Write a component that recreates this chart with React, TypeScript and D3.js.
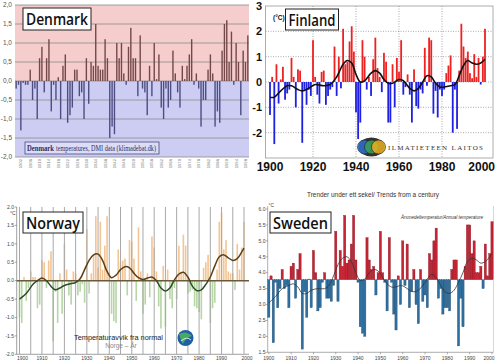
import React, { useEffect, useRef } from "react";
import * as d3 from "d3";

// ---- Denmark (DMI anomalies, 1900-1999) ----
const dkYears = d3.range(1900, 2000);
const dkValues = [
  -0.2, -0.1, -1.3, -0.05, -0.1, -0.1, 0.3, -0.5, -0.2, -1.0,
  0.6, 0.9, -0.3, 0.6, 1.1, -0.8, -0.1, -0.5, 0.1, -1.0,
  0.4, 0.7, -1.1, -0.9, -0.7, 0.3, 0.3, -0.4, -0.3, -1.0,
  0.6, -0.6, 0.5, 0.4, 1.5, 0.4, 0.3, 0.3, 1.1, 0.6,
  -1.5, -1.2, -1.4, 1.0, 0.6, 1.0, 0.2, -0.1, 0.9, 1.4,
  0.6, 0.6, -0.4, 1.2, -0.2, -0.3, -0.9, 0.4, -0.4, 1.0,
  0.05, 0.7, -0.7, -1.0, -0.2, -0.7, -0.5, 0.8, 0.2, -0.3,
  -0.7, 0.4, 0.05, 0.4, 0.7, 1.1, -0.1, 0.2, -0.2, -1.2,
  -0.5, -0.5, 0.3, 0.7, 0.2, -1.2, -0.8, -1.1, 0.8, 1.5,
  1.6, 0.5, 1.3, -0.1, 1.0, 0.5, -0.9, 0.8, 0.5, 1.2,
];
const dkTicks = [2, 1.5, 1, 0.5, 0, -0.5, -1, -1.5, -2];
const dkYearLabels = d3.range(1902, 2000, 4);

// ---- Finland (1900-2000) ----
const fiYears = d3.range(1900, 2001);
const fiValues = [
  -1.3, 0.2, -2.45, 0.7, -0.85, 0.1, 0.6, -0.7, -0.45, -0.3,
  0.95, 0.2, -1.0, 0.5, 0.45, -2.4, -0.3, -0.9, -0.3, -0.55,
  1.65, 0.2, -0.5, -0.85, 0.4, 0.45, -0.9, -0.55, -0.3, -0.2,
  1.4, -0.55, 1.0, -0.25, 2.1, 0.7, 0.8, 1.6, 2.2, 1.2,
  -1.2, -2.25, -1.6, 1.65, 1.0, -0.3, 0.2, -0.55, 0.9, 1.75,
  0.55, 0.2, -0.4, 1.15, 0.8, -1.6, -1.6, 0.7, -1.0, 0.95,
  0.4, 1.65, -0.5, -0.2, 0.3, -0.5, -1.6, 0.5, -0.95, -1.05,
  -0.3, -0.45, 1.35, -0.15, 1.75, 1.65, -1.25, -0.35, -1.4, -0.3,
  -0.55, -0.3, 0.35, 0.65, 1.05, -2.0, -0.3, -1.85, 0.45, 2.3,
  1.4, 0.95, 1.2, 0.35, 0.15, 1.1, 0.2, 0.95, -0.1, 1.0, 2.1,
];
const fiSmoothYears = [1900, 1902, 1905, 1908, 1910, 1913, 1915, 1918, 1921, 1925, 1928, 1931, 1934, 1936, 1938, 1940, 1942, 1944, 1947, 1949, 1951, 1953, 1955, 1957, 1960, 1962, 1965, 1967, 1969, 1971, 1973, 1975, 1977, 1979, 1981, 1984, 1986, 1988, 1990, 1992, 1994, 1996, 1998, 2000];
const fiSmooth = [-0.6, -0.6, -0.35, -0.15, -0.15, -0.3, -0.35, -0.25, -0.1, -0.15, -0.1, 0.2, 0.7, 0.85, 0.75, 0.3, 0.0, 0.05, 0.35, 0.45, 0.35, 0.1, -0.05, -0.05, 0.1, 0.05, -0.25, -0.35, -0.25, 0.0, 0.25, 0.2, -0.05, -0.2, -0.2, -0.15, -0.1, 0.25, 0.65, 0.85, 0.75, 0.7, 0.75, 0.9];
const fiTicks = [3, 2, 1, 0, -1, -2];
const fiYearLabels = [1900, 1920, 1940, 1960, 1980, 2000];

// ---- Norway (1900-2000) ----
const noYears = d3.range(1900, 2001);
const noValues = [
  -1.0, -1.15, 0.1, -0.55, -0.2, 0.25, 0.1, 0.1, -0.75, -0.65,
  0.55, 0.5, -0.2, 0.55, 0.8, -1.65, -0.3, -1.15, 0.2, -0.9,
  1.0, 0.3, -0.4, -0.65, 0.25, 0.2, -0.4, -0.3, -0.1, -0.6,
  1.4, -0.35, 0.2, 0.7, 1.75, 0.35, 1.6, 0.3, 0.95, 1.75,
  0.2, -0.9, -1.1, -1.15, 0.85, 0.5, 0.55, 0.6, -0.4, 1.1,
  1.05, 0.6, -0.55, 1.45, 0.25, -0.9, -0.65, 0.2, -0.45, 1.2,
  0.9, 0.25, -0.7, -1.3, 0.4, -1.25, 0.3, -0.5, -0.75, -0.2,
  -0.5, 0.95, 0.2, 1.25, 0.95, -0.35, -0.3, -0.25, -0.7, -0.75,
  -0.85, -1.05, 0.35, 0.5, 0.7, -1.15, -0.75, -0.6, 0.3, 1.6,
  1.85, 0.85, 1.1, 0.25, 0.2, 0.2, -0.25, 1.0, 0.3, 0.9, 1.6,
];
const noSmoothYears = [1900, 1903, 1906, 1908, 1910, 1912, 1914, 1916, 1918, 1920, 1923, 1925, 1927, 1929, 1931, 1933, 1935, 1937, 1939, 1941, 1943, 1945, 1947, 1949, 1951, 1953, 1955, 1957, 1959, 1961, 1963, 1965, 1967, 1969, 1971, 1973, 1975, 1977, 1979, 1981, 1983, 1985, 1987, 1989, 1991, 1993, 1995, 1997, 1999, 2000];
const noSmooth = [-0.5, -0.35, -0.1, 0.0, 0.07, 0.0, -0.15, -0.25, -0.2, -0.13, -0.08, -0.05, 0.05, 0.3, 0.55, 0.7, 0.72, 0.55, 0.25, 0.08, 0.15, 0.3, 0.38, 0.35, 0.2, 0.08, 0.03, 0.07, 0.1, 0.0, -0.2, -0.28, -0.2, 0.02, 0.18, 0.23, 0.1, -0.15, -0.27, -0.25, -0.1, 0.1, 0.4, 0.65, 0.7, 0.62, 0.55, 0.6, 0.78, 0.88];
const noTicks = [2, 1.5, 1, 0.5, 0, -0.5, -1, -1.5, -2];
const noYearLabels = d3.range(1900, 2001, 10);

// ---- Sweden (1900-2000, absolute annual mean) ----
const seYears = d3.range(1900, 2001);
const seValues = [
  2.6, 3.9, 1.8, 3.7, 2.9, 3.5, 4.1, 3.5, 3.6, 2.9,
  4.2, 4.3, 3.2, 4.1, 4.6, 1.6, 3.4, 2.6, 3.8, 2.9,
  4.7, 4.0, 2.8, 2.9, 3.7, 4.0, 3.2, 3.2, 3.1, 3.6,
  5.3, 3.1, 4.7, 4.2, 5.8, 4.3, 4.4, 4.9, 5.8, 4.4,
  3.7, 2.3, 2.1, 2.0, 5.1, 4.4, 4.1, 4.2, 3.3, 4.0,
  5.3, 4.0, 3.7, 2.8, 5.1, 3.7, 2.7, 2.2, 3.9, 3.0,
  5.0, 3.6, 4.9, 2.9, 3.4, 4.1, 3.0, 2.4, 4.1, 3.1,
  3.3, 2.9, 4.6, 4.4, 5.0, 5.4, 3.2, 3.5, 2.7, 2.9,
  2.9, 2.8, 4.1, 4.4, 4.4, 1.7, 3.2, 2.3, 4.2, 5.5,
  5.5, 4.6, 5.0, 4.0, 4.0, 4.2, 3.5, 4.9, 3.9, 4.6, 5.6,
];
const seBase = 3.78;
const seSmoothYears = [1900, 1903, 1906, 1909, 1911, 1913, 1915, 1917, 1919, 1922, 1925, 1927, 1929, 1931, 1933, 1935, 1937, 1939, 1941, 1943, 1945, 1947, 1949, 1951, 1953, 1955, 1957, 1959, 1961, 1963, 1965, 1967, 1969, 1971, 1973, 1975, 1977, 1979, 1981, 1983, 1985, 1987, 1989, 1991, 1993, 1995, 1997, 1999, 2000];
const seSmooth = [3.05, 3.25, 3.5, 3.6, 3.65, 3.55, 3.35, 3.35, 3.45, 3.5, 3.5, 3.6, 3.9, 4.25, 4.45, 4.5, 4.35, 4.0, 3.75, 3.8, 4.0, 4.1, 4.05, 3.85, 3.65, 3.55, 3.55, 3.6, 3.55, 3.45, 3.4, 3.45, 3.6, 3.8, 3.95, 3.85, 3.6, 3.4, 3.35, 3.45, 3.7, 4.0, 4.35, 4.45, 4.4, 4.3, 4.35, 4.5, 4.6];
const seTicks = [6, 5.5, 5, 4.5, 4, 3.5, 3, 2.5, 2, 1.5];
const seYearLabels = d3.range(1900, 2001, 10);

type Sel = d3.Selection<SVGSVGElement, unknown, null, undefined>;

const titleBox = (svg: Sel, x: number, y: number, w: number, h: number, label: string) => {
  svg.append("rect").attr("x", x).attr("y", y).attr("width", w).attr("height", h)
    .attr("fill", "white").attr("stroke", "#222").attr("stroke-width", 1);
  svg.append("text").attr("x", x + w / 2).attr("y", y + h / 2 + 6)
    .attr("text-anchor", "middle").attr("font-family", "Open Sans, sans-serif")
    .attr("font-size", 17).attr("font-weight", 600).attr("fill", "#111")
    .attr("textLength", w - 6).attr("lengthAdjust", "spacingAndGlyphs").text(label);
};

const drawDenmark = (svg: Sel) => {
  const x = d3.scaleBand<number>().domain(dkYears).range([15, 249]);
  const y = d3.scaleLinear().domain([-2, 2]).range([157, 5]);
  svg.append("rect").attr("x", 15).attr("y", y(2)).attr("width", 234).attr("height", y(0) - y(2)).attr("fill", "#f6cdcd");
  svg.append("rect").attr("x", 15).attr("y", y(0)).attr("width", 234).attr("height", y(-2) - y(0)).attr("fill", "#cdcdf4");
  dkTicks.forEach((t) => {
    svg.append("line").attr("x1", 15).attr("x2", 249).attr("y1", y(t)).attr("y2", y(t))
      .attr("stroke", "#8a8a8a").attr("stroke-width", 0.8);
    svg.append("text").attr("x", 12).attr("y", y(t) + 2.3).attr("text-anchor", "end")
      .attr("font-family", "Liberation Sans, sans-serif").attr("font-size", 6.5).attr("fill", "#555")
      .text(d3.format(".1f")(t).replace(".", ",").replace("−", "-"));
  });
  svg.append("g").selectAll("rect").data(dkValues).join("rect")
    .attr("x", (_, i) => x(dkYears[i])! + x.bandwidth() / 2 - 0.7)
    .attr("width", 1.4)
    .attr("y", (d) => Math.min(y(d), y(0)))
    .attr("height", (d) => Math.abs(y(d) - y(0)))
    .attr("fill", (d) => (d >= 0 ? "#744848" : "#4d4d82"));
  dkYearLabels.forEach((yr) => {
    const cx = x(yr)! + x.bandwidth() / 2 + 1.5;
    svg.append("text").attr("transform", `translate(${cx},159) rotate(-90)`)
      .attr("text-anchor", "end").attr("font-family", "Liberation Sans, sans-serif")
      .attr("font-size", 4.2).attr("fill", "#777").text(yr);
  });
  // source box
  svg.append("rect").attr("x", 25).attr("y", 142).attr("width", 134).attr("height", 12)
    .attr("fill", "#dcdcf6").attr("stroke", "#4a4a80").attr("stroke-width", 0.8);
  svg.append("text").attr("x", 27).attr("y", 151).attr("font-family", "Liberation Serif, serif")
    .attr("font-size", 7.5).attr("font-weight", "bold").attr("fill", "#2c2c66")
    .attr("textLength", 27).attr("lengthAdjust", "spacingAndGlyphs").text("Denmark");
  svg.append("text").attr("x", 56).attr("y", 151).attr("font-family", "Liberation Serif, serif")
    .attr("font-size", 7.5).attr("fill", "#2c2c66")
    .attr("textLength", 100).attr("lengthAdjust", "spacingAndGlyphs").text("temperatures, DMI data (klimadebat.dk)");
  titleBox(svg, 23, 8, 68, 22, "Denmark");
};

const drawFinland = (svg: Sel) => {
  const x = d3.scaleLinear().domain([1900, 2000]).range([270, 485]);
  const y = d3.scaleLinear().domain([-3, 3]).range([158, 6]);
  const left = 265.5, right = 493;
  svg.append("rect").attr("x", left).attr("y", y(3)).attr("width", right - left).attr("height", y(-3) - y(3))
    .attr("fill", "white").attr("stroke", "#999").attr("stroke-width", 0.8);
  fiTicks.forEach((t) => {
    if (t !== 3) svg.append("line").attr("x1", left).attr("x2", right).attr("y1", y(t)).attr("y2", y(t))
      .attr("stroke", "#888").attr("stroke-width", 0.7).attr("stroke-dasharray", "1,1.5");
    svg.append("text").attr("x", 262).attr("y", y(t) + 4).attr("text-anchor", "end")
      .attr("font-family", "Liberation Sans, sans-serif").attr("font-weight", "bold").attr("font-size", 11)
      .attr("fill", "#111").text(t < 0 ? `-${-t}` : t);
  });
  fiYearLabels.forEach((yr) => {
    if (yr > 1900 && yr < 2000) svg.append("line").attr("x1", x(yr)).attr("x2", x(yr)).attr("y1", y(3)).attr("y2", y(-3))
      .attr("stroke", "#888").attr("stroke-width", 0.7).attr("stroke-dasharray", "1,1.5");
    svg.append("text").attr("x", yr === 2000 ? 495 : x(yr)).attr("y", 171)
      .attr("text-anchor", yr === 2000 ? "end" : "middle")
      .attr("font-family", "Liberation Sans, sans-serif").attr("font-weight", "bold").attr("font-size", 12)
      .attr("fill", "#111").text(yr);
  });
  svg.append("g").selectAll("rect").data(fiValues).join("rect")
    .attr("x", (_, i) => x(fiYears[i]) - 0.9)
    .attr("width", 1.8)
    .attr("y", (d) => Math.min(y(d), y(0)))
    .attr("height", (d) => Math.abs(y(d) - y(0)))
    .attr("fill", (d) => (d >= 0 ? "#ee2222" : "#2020e0"));
  const line = d3.line<number>().x((_, i) => x(fiSmoothYears[i])).y((d) => y(d)).curve(d3.curveCatmullRom);
  svg.append("path").attr("d", line(fiSmooth)).attr("fill", "none").attr("stroke", "#111").attr("stroke-width", 1.6);
  // logo
  const lg = svg.append("g");
  lg.append("ellipse").attr("cx", 371.5).attr("cy", 147).attr("rx", 13).attr("ry", 9.5).attr("fill", "#333");
  [["#2f6fd0", 364.5], ["#3aa050", 371.5], ["#e8b020", 378.5]].forEach(([c, cx]) => {
    lg.append("circle").attr("cx", cx as number).attr("cy", 147).attr("r", 7).attr("fill", c as string)
      .attr("fill-opacity", 0.85).attr("stroke", "#222").attr("stroke-width", 0.6);
  });
  svg.append("text").attr("x", 388).attr("y", 150).attr("font-family", "Liberation Serif, serif")
    .attr("font-size", 7).attr("fill", "#333").attr("textLength", 95).attr("lengthAdjust", "spacing")
    .text("ILMATIETEEN LAITOS");
  svg.append("text").attr("x", 273).attr("y", 20).attr("font-family", "Liberation Sans, sans-serif")
    .attr("font-size", 6.5).attr("font-weight", "bold").attr("fill", "#111").text("(°C)");
  titleBox(svg, 285.5, 9, 53, 21, "Finland");
};

const drawNorway = (svg: Sel) => {
  const x = d3.scaleLinear().domain([1900, 2000]).range([19.5, 244]);
  const y = d3.scaleLinear().domain([-2, 2]).range([354.3, 207]);
  const left = 16.7, right = 249;
  svg.append("line").attr("x1", left).attr("x2", left).attr("y1", y(2)).attr("y2", y(-2)).attr("stroke", "#888").attr("stroke-width", 0.8);
  svg.append("line").attr("x1", left).attr("x2", right).attr("y1", y(-2)).attr("y2", y(-2)).attr("stroke", "#888").attr("stroke-width", 0.8);
  noTicks.forEach((t) => {
    svg.append("line").attr("x1", left - 2).attr("x2", left).attr("y1", y(t)).attr("y2", y(t)).attr("stroke", "#666").attr("stroke-width", 0.6);
    svg.append("text").attr("x", 14).attr("y", y(t) + 1.8).attr("text-anchor", "end")
      .attr("font-family", "Liberation Sans, sans-serif").attr("font-size", 5).attr("fill", "#444")
      .text(d3.format(".1f")(t).replace("−", "-"));
  });
  svg.append("text").attr("x", 10).attr("y", 215).attr("font-family", "Liberation Sans, sans-serif")
    .attr("font-size", 5).attr("fill", "#444").text("°C");
  svg.append("g").selectAll("rect").data(noValues).join("rect")
    .attr("x", (_, i) => x(noYears[i]) - 0.8)
    .attr("width", 1.6)
    .attr("y", (d) => Math.min(y(d), y(0)))
    .attr("height", (d) => Math.abs(y(d) - y(0)))
    .attr("fill", (d) => (d >= 0 ? "#f4c594" : "#b6d6a6"));
  d3.range(1900, 2001, 5).forEach((yr) => {
    svg.append("line").attr("x1", x(yr)).attr("x2", x(yr)).attr("y1", y(2)).attr("y2", y(-2))
      .attr("stroke", "#a8a8a8").attr("stroke-width", 1);
  });
  noYearLabels.forEach((yr) => {
    svg.append("text").attr("x", yr === 1900 ? x(yr) + 3 : yr === 2000 ? 247 : x(yr)).attr("y", 360).attr("text-anchor", "middle")
      .attr("font-family", "Liberation Sans, sans-serif").attr("font-size", 5).attr("fill", "#444").text(yr);
  });
  svg.append("line").attr("x1", left).attr("x2", right).attr("y1", y(0)).attr("y2", y(0))
    .attr("stroke", "#6a5a3a").attr("stroke-width", 1.5);
  const defs = svg.append("defs");
  defs.append("clipPath").attr("id", "noAbove").append("rect").attr("x", 0).attr("y", 190).attr("width", 250).attr("height", y(0) - 190);
  defs.append("clipPath").attr("id", "noBelow").append("rect").attr("x", 0).attr("y", y(0)).attr("width", 250).attr("height", 363 - y(0));
  const line = d3.line<number>().x((_, i) => x(noSmoothYears[i])).y((d) => y(d)).curve(d3.curveCatmullRom);
  svg.append("path").attr("d", line(noSmooth)).attr("fill", "none").attr("stroke", "#5a3e14").attr("stroke-width", 1.5).attr("clip-path", "url(#noAbove)");
  svg.append("path").attr("d", line(noSmooth)).attr("fill", "none").attr("stroke", "#2e4a2a").attr("stroke-width", 1.5).attr("clip-path", "url(#noBelow)");
  svg.append("text").attr("x", 74).attr("y", 340).attr("font-family", "Liberation Sans, sans-serif")
    .attr("font-size", 8).attr("fill", "#222").attr("textLength", 89).attr("lengthAdjust", "spacingAndGlyphs")
    .text("Temperaturavvik fra normal");
  svg.append("text").attr("x", 121).attr("y", 347.5).attr("text-anchor", "middle").attr("font-family", "Liberation Sans, sans-serif")
    .attr("font-size", 6.5).attr("fill", "#888").text("Norge – År");
  const g = svg.append("g");
  g.append("circle").attr("cx", 185.5).attr("cy", 338).attr("r", 8).attr("fill", "#1f5fa8");
  g.append("path").attr("d", "M179,334 Q186,330 192,336 Q186,337 183,344 Q180,339 179,334 Z").attr("fill", "#4aa864");
  g.append("path").attr("d", "M181,341 Q187,336 191,340").attr("stroke", "white").attr("fill", "none").attr("stroke-width", 0.8);
  titleBox(svg, 23, 212, 60, 21, "Norway");
};

const drawSweden = (svg: Sel) => {
  const x = d3.scaleLinear().domain([1900, 2000]).range([268.8, 492]);
  const y = d3.scaleLinear().domain([1.5, 6]).range([352.3, 209]);
  const left = 267.7, right = 493.5;
  const bw = (x(2000) - x(1900)) / 100;
  svg.append("text").attr("x", 307).attr("y", 197).attr("font-family", "Liberation Sans, sans-serif")
    .attr("font-size", 7).attr("fill", "#333").attr("textLength", 132).attr("lengthAdjust", "spacingAndGlyphs")
    .text("Trender under ett sekel/ Trends from a century");
  svg.append("line").attr("x1", left).attr("x2", left).attr("y1", y(6) - 3).attr("y2", y(1.5)).attr("stroke", "#999").attr("stroke-width", 0.8);
  svg.append("line").attr("x1", left).attr("x2", right).attr("y1", y(1.5)).attr("y2", y(1.5)).attr("stroke", "#999").attr("stroke-width", 0.8);
  svg.append("line").attr("x1", right).attr("x2", right).attr("y1", y(6) - 3).attr("y2", y(1.5)).attr("stroke", "#ccc").attr("stroke-width", 0.8);
  seTicks.forEach((t) => {
    svg.append("line").attr("x1", left - 2).attr("x2", left).attr("y1", y(t)).attr("y2", y(t)).attr("stroke", "#777").attr("stroke-width", 0.6);
    svg.append("text").attr("x", 265.5).attr("y", y(t) + 1.8).attr("text-anchor", "end")
      .attr("font-family", "Liberation Sans, sans-serif").attr("font-size", 5).attr("fill", "#444")
      .text(t.toFixed(1));
  });
  svg.append("text").attr("x", 268.5).attr("y", 207).attr("font-family", "Liberation Sans, sans-serif")
    .attr("font-size", 4.8).attr("fill", "#444").text("°C");
  seYearLabels.forEach((yr) => {
    svg.append("line").attr("x1", x(yr)).attr("x2", x(yr)).attr("y1", y(1.5)).attr("y2", y(1.5) + 2).attr("stroke", "#777").attr("stroke-width", 0.6);
    svg.append("text").attr("x", yr === 2000 ? 494.5 : x(yr)).attr("y", 360)
      .attr("text-anchor", yr === 2000 ? "end" : "middle")
      .attr("font-family", "Liberation Sans, sans-serif").attr("font-size", 5).attr("fill", "#444").text(yr);
  });
  svg.append("g").selectAll("rect").data(seValues).join("rect")
    .attr("x", (_, i) => x(seYears[i]) - bw / 2)
    .attr("width", bw)
    .attr("y", (d) => Math.min(y(d), y(seBase)))
    .attr("height", (d) => Math.abs(y(d) - y(seBase)))
    .attr("fill", (d) => (d >= seBase ? "#c42434" : "#2f6f9f"))
    .attr("stroke", (d) => (d >= seBase ? "#8c1420" : "#1f4c70"))
    .attr("stroke-width", 0.35);
  const line = d3.line<number>().x((_, i) => x(seSmoothYears[i])).y((d) => y(d)).curve(d3.curveCatmullRom);
  svg.append("path").attr("d", line(seSmooth)).attr("fill", "none").attr("stroke", "#333").attr("stroke-width", 0.8);
  svg.append("text").attr("x", 401).attr("y", 219).attr("font-family", "Liberation Sans, sans-serif")
    .attr("font-style", "italic").attr("font-size", 5).attr("fill", "#333").attr("textLength", 82).attr("lengthAdjust", "spacingAndGlyphs")
    .text("Årsmedeltemperatur/Annual temperature");
  titleBox(svg, 270, 212, 61, 21, "Sweden");
};

const App: React.FC = () => {
  const svgRef = useRef<SVGSVGElement | null>(null);

  useEffect(() => {
    if (!svgRef.current) return;
    d3.select(svgRef.current).selectAll("*").remove();
    const svg = d3.select(svgRef.current).attr("width", 495).attr("height", 363) as Sel;
    svg.append("rect").attr("width", 495).attr("height", 363).attr("fill", "white");
    drawDenmark(svg);
    drawFinland(svg);
    drawNorway(svg);
    drawSweden(svg);
  }, []);

  return (
    <div style={{ position: "absolute", left: 0, top: 0 }}>
      <svg ref={svgRef} style={{ display: "block" }}></svg>
    </div>
  );
};

export default App;
